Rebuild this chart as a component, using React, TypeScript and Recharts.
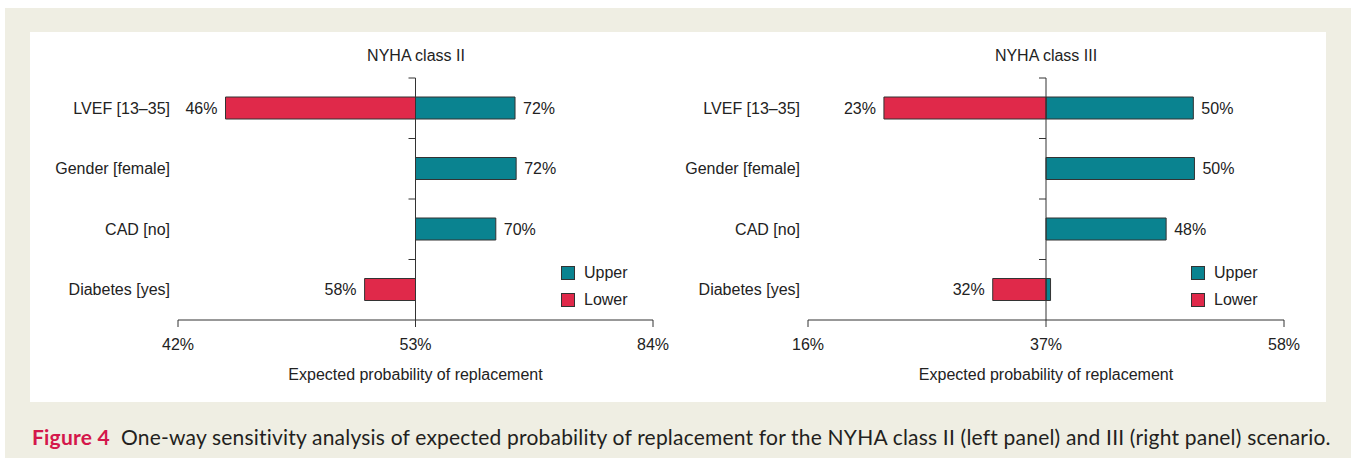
import React from 'react';
import {
  BarChart,
  Bar,
  XAxis,
  YAxis,
  ReferenceLine,
  ReferenceArea,
  LabelList,
  Legend,
} from 'recharts';

// ---------- data ----------
const categories = ['LVEF [13–35]', 'Gender [female]', 'CAD [no]', 'Diabetes [yes]'];

// NYHA class II panel
const classIIBase = 63;
const classIILower: (number | null)[] = [46.2, null, null, 58.5];
const classIIUpper: (number | null)[] = [71.8, 71.9, 70.1, null];
const classIILowerLabels = ['46%', '', '', '58%'];
const classIIUpperLabels = ['72%', '72%', '70%', ''];
const classIITicks = [42, 63, 84];
const classIITickLabels = ['42%', '53%', '84%'];

// NYHA class III panel
const classIIIBase = 37;
const classIIILower: (number | null)[] = [22.7, null, null, 32.3];
const classIIIUpper: (number | null)[] = [50.0, 50.1, 47.6, 37.4];
const classIIILowerLabels = ['23%', '', '', '32%'];
const classIIIUpperLabels = ['50%', '50%', '48%', ''];
const classIIITicks = [16, 37, 58];
const classIIITickLabels = ['16%', '37%', '58%'];

const seriesNames = ['Upper', 'Lower'];
const UPPER_COLOR = '#0a8390';
const LOWER_COLOR = '#e0294a';
const INK = '#222';
const AXIS = '#333';
const FONT = "'Liberation Sans', Arial, Helvetica, sans-serif";
const FS = 16;

type Row = {
  name: string;
  lower: [number, number] | null;
  upper: [number, number] | null;
  lowerLabel: string;
  upperLabel: string;
};

function buildRows(
  base: number,
  lower: (number | null)[],
  upper: (number | null)[],
  lowerLabels: string[],
  upperLabels: string[]
): Row[] {
  return categories.map((name, i) => ({
    name,
    lower: lower[i] == null ? null : [lower[i] as number, base],
    upper: upper[i] == null ? null : [base, upper[i] as number],
    lowerLabel: lowerLabels[i],
    upperLabel: upperLabels[i],
  }));
}

const renderLegend = (props: any) => {
  const payload = [...(props.payload || [])].sort(
    (a: any, b: any) => seriesNames.indexOf(a.value) - seriesNames.indexOf(b.value)
  );
  return (
    <div style={{ fontFamily: FONT, fontSize: FS, color: INK }}>
      {payload.map((p: any) => (
        <div
          key={p.value}
          style={{ display: 'flex', alignItems: 'center', height: 26.7 }}
        >
          <span
            style={{
              display: 'inline-block',
              width: 12,
              height: 12,
              background: p.color,
              border: `1px solid ${AXIS}`,
              marginRight: 9,
            }}
          />
          <span>{p.value}</span>
        </div>
      ))}
    </div>
  );
};

const TickMark = (props: any) => {
  const { x, y, width } = props;
  return (
    <line
      x1={x + width - 7}
      x2={x + width}
      y1={y}
      y2={y}
      stroke={AXIS}
      strokeWidth={1}
    />
  );
};

type PanelProps = {
  rows: Row[];
  base: number;
  ticks: number[];
  tickLabels: string[];
  width: number;
  yAxisWidth: number;
  rightMargin: number;
  legendLeft: number;
};

function Panel({
  rows,
  base,
  ticks,
  tickLabels,
  width,
  yAxisWidth,
  rightMargin,
  legendLeft,
}: PanelProps) {
  return (
    <BarChart
      width={width}
      height={368}
      data={rows}
      layout="vertical"
      margin={{ top: 46, right: rightMargin, bottom: 0, left: 0 }}
      barGap={-22}
      barCategoryGap={0}
    >
      <XAxis
        type="number"
        domain={[ticks[0], ticks[ticks.length - 1]]}
        ticks={ticks}
        interval={0}
        tickFormatter={(v: number) => tickLabels[ticks.indexOf(v)]}
        tickSize={7}
        tickMargin={12}
        stroke={AXIS}
        tick={{ fill: INK, fontSize: FS }}
        height={80}
        label={{
          value: 'Expected probability of replacement',
          position: 'insideBottom',
          offset: 20,
          fill: INK,
          fontSize: FS,
        }}
      />
      <YAxis
        type="category"
        dataKey="name"
        width={yAxisWidth}
        axisLine={false}
        tickLine={false}
        tickSize={0}
        tickMargin={8}
        interval={0}
        tick={{ fill: INK, fontSize: FS }}
      />
      {categories.map((c) => (
        <ReferenceArea
          key={c}
          x1={ticks[0]}
          x2={base}
          y1={c}
          y2={c}
          ifOverflow="visible"
          shape={TickMark}
        />
      ))}
      <Bar
        dataKey="upper"
        name={seriesNames[0]}
        fill={UPPER_COLOR}
        stroke={AXIS}
        strokeWidth={1}
        barSize={22}
        isAnimationActive={false}
      >
        <LabelList
          dataKey="upperLabel"
          position="right"
          offset={8}
          fill={INK}
          fontSize={FS}
        />
      </Bar>
      <Bar
        dataKey="lower"
        name={seriesNames[1]}
        fill={LOWER_COLOR}
        stroke={AXIS}
        strokeWidth={1}
        barSize={22}
        isAnimationActive={false}
      >
        <LabelList
          dataKey="lowerLabel"
          position="left"
          offset={8}
          fill={INK}
          fontSize={FS}
        />
      </Bar>
      <ReferenceLine x={base} stroke={AXIS} strokeWidth={1} ifOverflow="visible" />
      <Legend
        layout="vertical"
        align="center"
        verticalAlign="middle"
        wrapperStyle={{ left: legendLeft, top: 228, width: 90 }}
        content={renderLegend}
      />
    </BarChart>
  );
}

export default function App() {
  const rowsII = buildRows(
    classIIBase,
    classIILower,
    classIIUpper,
    classIILowerLabels,
    classIIUpperLabels
  );
  const rowsIII = buildRows(
    classIIIBase,
    classIIILower,
    classIIIUpper,
    classIIILowerLabels,
    classIIIUpperLabels
  );

  const titleStyle: React.CSSProperties = {
    position: 'absolute',
    top: 47,
    width: 240,
    textAlign: 'center',
    fontFamily: FONT,
    fontSize: FS,
    color: INK,
    lineHeight: 'normal',
  };

  return (
    <div
      style={{
        position: 'absolute',
        left: 0,
        top: 0,
        width: 1351,
        height: 458,
        background: '#ffffff',
        overflow: 'hidden',
      }}
    >
      <div
        style={{
          position: 'absolute',
          left: 5,
          top: 8,
          width: 1346,
          height: 450,
          background: '#efeee3',
        }}
      />
      <div
        style={{
          position: 'absolute',
          left: 30,
          top: 32,
          width: 1296,
          height: 370,
          background: '#ffffff',
        }}
      />
      <div style={{ ...titleStyle, left: 416 - 120 }}>NYHA class II</div>
      <div style={{ ...titleStyle, left: 1046 - 120 }}>NYHA class III</div>

      <div style={{ position: 'absolute', left: 30, top: 32, fontFamily: FONT }}>
        <Panel
          rows={rowsII}
          base={classIIBase}
          ticks={classIITicks}
          tickLabels={classIITickLabels}
          width={640}
          yAxisWidth={148}
          rightMargin={17}
          legendLeft={531}
        />
      </div>
      <div style={{ position: 'absolute', left: 670, top: 32, fontFamily: FONT }}>
        <Panel
          rows={rowsIII}
          base={classIIIBase}
          ticks={classIIITicks}
          tickLabels={classIIITickLabels}
          width={631}
          yAxisWidth={138}
          rightMargin={17}
          legendLeft={521}
        />
      </div>

      <div
        style={{
          position: 'absolute',
          left: 32,
          top: 424,
          fontFamily: "Lato, 'Open Sans', sans-serif",
          fontSize: 21,
          letterSpacing: 0.2,
          color: '#231f20',
          whiteSpace: 'nowrap',
          lineHeight: 'normal',
        }}
      >
        <span style={{ fontWeight: 700, color: '#d4174b' }}>Figure 4</span>
        {'\u00a0 One-way sensitivity analysis of expected probability of replacement for the NYHA class II (left panel) and III (right panel) scenario.'}
      </div>
    </div>
  );
}
